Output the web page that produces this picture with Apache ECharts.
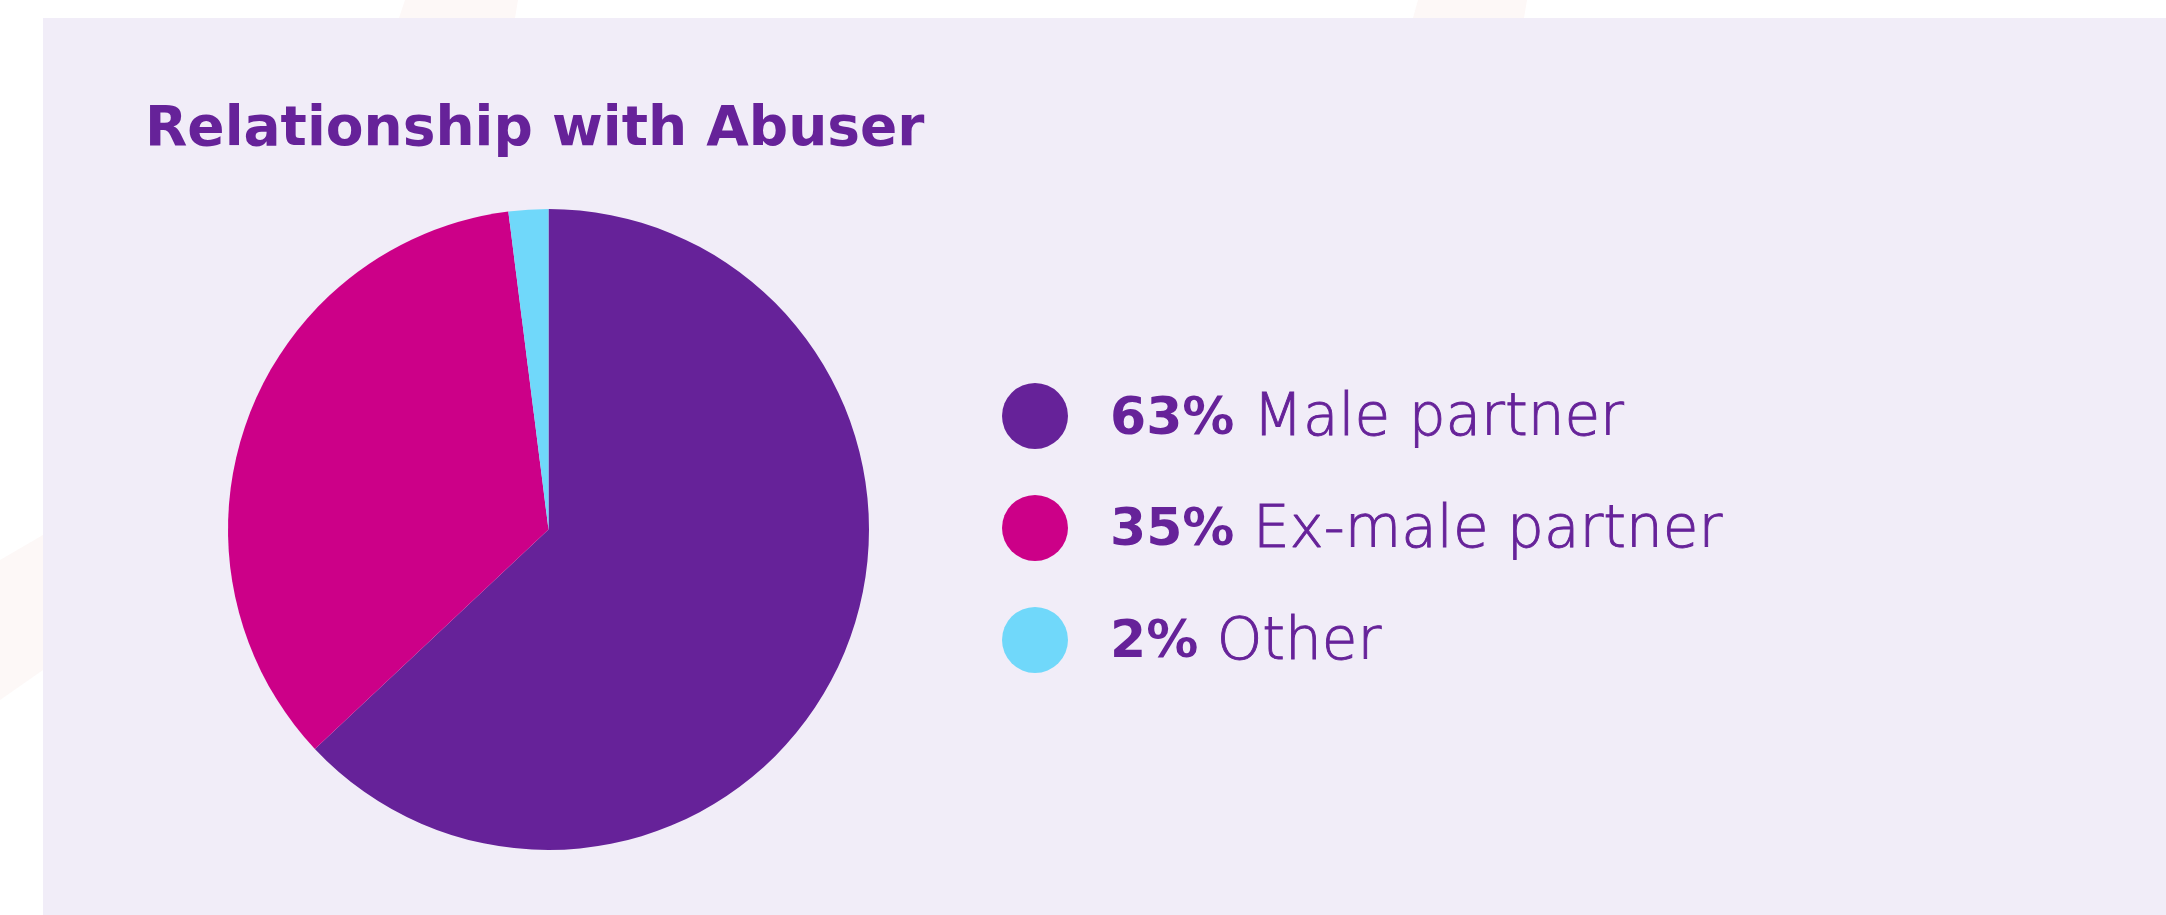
<!DOCTYPE html>
<html>
<head>
<meta charset="utf-8">
<script src="https://cdn.jsdelivr.net/npm/echarts@6/dist/echarts.min.js"></script>
<style>
html,body{margin:0;padding:0;background:#ffffff;}
#chart{width:2166px;height:915px;}
</style>
</head>
<body>
<div id="chart"></div>
<script>
const titleText = 'Relationship with Abuser';
const categories = ['Male partner', 'Ex-male partner', 'Other'];
const values = [63, 35, 2];
const colors = ['#662299', '#CC0088', '#70D8FA'];

const textColor = '#662299';
const boldFont = 'DejaVu Sans';
const lightFont = '"DejaVu Sans ExtraLight", "DejaVu Sans Light", Roboto, sans-serif';

const chart = echarts.init(document.getElementById('chart'), null, {renderer: 'canvas'});

const pieData = categories.map((c, i) => ({name: c, value: values[i], itemStyle: {color: colors[i]}}));

const option = {
  backgroundColor: '#ffffff',
  animation: false,
  graphic: [
    {type: 'polygon', z: -10, silent: true, shape: {points: [[0, 560], [43, 535], [43, 670], [0, 700]]}, style: {fill: '#FDF8F7'}},
    {type: 'polygon', z: -10, silent: true, shape: {points: [[405, 0], [518, 0], [515, 18], [399, 18]]}, style: {fill: '#FDF8F7'}},
    {type: 'polygon', z: -10, silent: true, shape: {points: [[1418, 0], [1527, 0], [1524, 18], [1413, 18]]}, style: {fill: '#FDF8F7'}},
    {type: 'rect', z: -9, silent: true, shape: {x: 43, y: 18, width: 2123, height: 897}, style: {fill: '#F1EDF8'}}
  ],
  title: {
    text: titleText,
    left: 145,
    top: 103,
    padding: 0,
    textStyle: {
      fontFamily: boldFont,
      fontWeight: 'bold',
      fontSize: 55,
      lineHeight: 56,
      color: textColor
    }
  },
  legend: {
    orient: 'vertical',
    left: 1002,
    top: 383,
    padding: 0,
    itemWidth: 66,
    itemHeight: 66,
    itemGap: 45.5,
    icon: 'circle',
    selectedMode: false,
    data: categories,
    formatter: function (name) {
      const i = categories.indexOf(name);
      return '{b|' + values[i] + '%}{l| ' + name + '}';
    },
    textStyle: {
      color: textColor,
      padding: [8, 0, 0, 0],
      rich: {
        b: {fontFamily: boldFont, fontWeight: 'bold', fontSize: 52, lineHeight: 66, color: textColor, padding: [0, 0, 0, 37]},
        l: {fontFamily: lightFont, fontWeight: 300, fontSize: 58, lineHeight: 66, color: textColor, textBorderColor: textColor, textBorderWidth: 0.9}
      }
    }
  },
  series: [{
    type: 'pie',
    center: [548.5, 529.5],
    radius: 320.5,
    startAngle: 90,
    clockwise: true,
    label: {show: false},
    labelLine: {show: false},
    emphasis: {disabled: true},
    itemStyle: {borderWidth: 0},
    data: pieData
  }]
};
chart.setOption(option);
</script>
</body>
</html>
